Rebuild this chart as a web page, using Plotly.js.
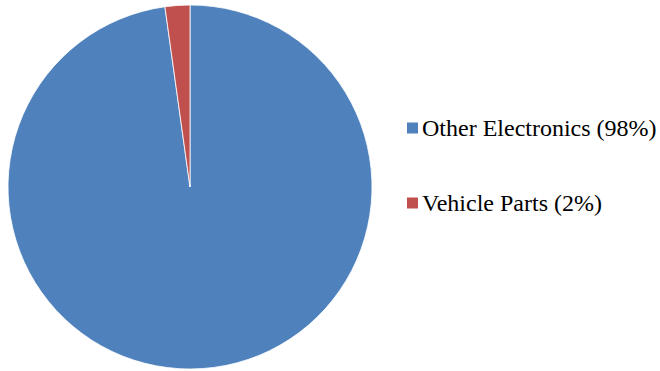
<!DOCTYPE html>
<html>
<head>
<meta charset="utf-8">
<script src="https://cdn.plot.ly/plotly-3.0.1.min.js"></script>
<style>html,body{margin:0;padding:0;background:#fff;}#chart{width:660px;height:371px;}</style>
</head>
<body>
<div id="chart"></div>
<script>
const categories = ["Other Electronics", "Vehicle Parts"];
const values = [97.8, 2.2];
const pctLabels = ["98%", "2%"];
const colors = ["#4F81BD", "#C0504D"];

const legendY = [128, 203]; // px from top
const W = 660, H = 371;

const annotations = categories.map((c, i) => ({
  xref: "paper", yref: "paper",
  x: 420 / W, y: 1 - legendY[i] / H,
  xanchor: "left", yanchor: "middle",
  text: c + " (" + pctLabels[i] + ")",
  showarrow: false,
  font: {family: "Liberation Serif", size: 24, color: "#000"}
}));
const shapes = categories.map((c, i) => ({
  type: "rect", xref: "paper", yref: "paper",
  x0: 407 / W, x1: 418 / W,
  y0: 1 - (legendY[i] + 5.5) / H, y1: 1 - (legendY[i] - 5.5) / H,
  fillcolor: colors[i], line: {width: 0}
}));

Plotly.newPlot("chart", [{
  type: "pie",
  labels: categories,
  values: values,
  sort: false,
  direction: "clockwise",
  rotation: 0,
  textinfo: "none",
  hoverinfo: "label+percent",
  marker: {colors: colors, line: {color: "#ffffff", width: 0.8}},
  domain: {x: [8 / W, 372 / W], y: [1 - 369 / H, 1 - 5 / H]}
}], {
  width: W, height: H,
  margin: {l: 0, r: 0, t: 0, b: 0},
  showlegend: false,
  paper_bgcolor: "#fff",
  font: {family: "Liberation Serif"},
  annotations: annotations,
  shapes: shapes
}, {displayModeBar: false, staticPlot: true});
</script>
</body>
</html>
